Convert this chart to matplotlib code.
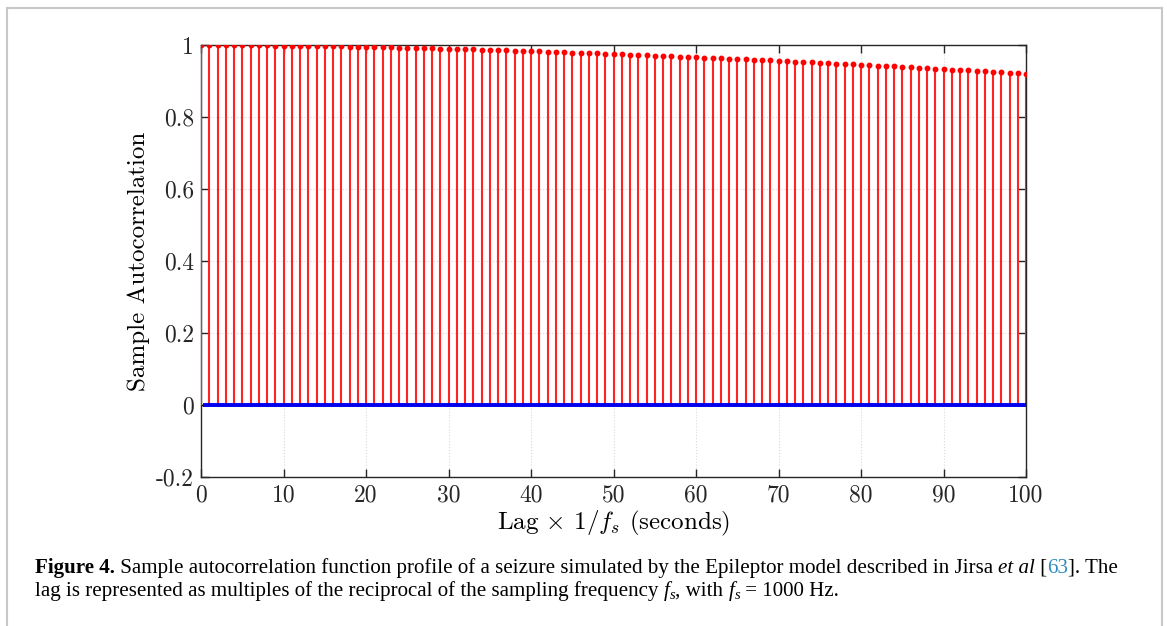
import matplotlib
matplotlib.use("Agg")
import matplotlib.pyplot as plt
from matplotlib.lines import Line2D
import numpy as np

lags = list(range(0, 101))
acf = [
    1.0000, 0.9999, 0.9998, 0.9997, 0.9996, 0.9995,
    0.9993, 0.9990, 0.9988, 0.9986, 0.9983,
    0.9980, 0.9977, 0.9974, 0.9970, 0.9967,
    0.9963, 0.9959, 0.9955, 0.9951, 0.9946,
    0.9941, 0.9937, 0.9932, 0.9927, 0.9922,
    0.9917, 0.9911, 0.9906, 0.9900, 0.9894,
    0.9888, 0.9882, 0.9876, 0.9869, 0.9863,
    0.9856, 0.9849, 0.9842, 0.9835, 0.9828,
    0.9821, 0.9813, 0.9806, 0.9798, 0.9791,
    0.9783, 0.9775, 0.9767, 0.9758, 0.9750,
    0.9741, 0.9733, 0.9724, 0.9716, 0.9707,
    0.9698, 0.9689, 0.9680, 0.9670, 0.9661,
    0.9651, 0.9641, 0.9632, 0.9622, 0.9612,
    0.9602, 0.9591, 0.9581, 0.9570, 0.9560,
    0.9549, 0.9538, 0.9528, 0.9517, 0.9506,
    0.9495, 0.9484, 0.9472, 0.9461, 0.9450,
    0.9438, 0.9426, 0.9415, 0.9403, 0.9391,
    0.9379, 0.9367, 0.9354, 0.9342, 0.9330,
    0.9317, 0.9304, 0.9292, 0.9279, 0.9266,
    0.9253, 0.9240, 0.9226, 0.9213, 0.9200,
]
bound_x = [0.5, 100]
bound_y = [0.0, 0.0]
xticks = [0, 10, 20, 30, 40, 50, 60, 70, 80, 90, 100]
yticks = [-0.2, 0, 0.2, 0.4, 0.6, 0.8, 1]
ytick_labels = ["-0.2", "0", "0.2", "0.4", "0.6", "0.8", "1"]

plt.rcParams['mathtext.fontset'] = 'cm'
plt.rcParams['axes.unicode_minus'] = False

W, H = 1167, 626
fig = plt.figure(figsize=(W / 100, H / 100), dpi=100)
ax = fig.add_axes([201 / W, 1 - 477 / H, (1026 - 201) / W, (477 - 45) / H])

ax.set_xlim(0, 100)
ax.set_ylim(-0.2, 1)
ax.set_xticks(xticks)
ax.set_yticks(yticks)
ax.set_xticklabels([str(t) for t in xticks], fontfamily='cmr10', fontsize=17)
ax.set_yticklabels(ytick_labels, fontfamily='cmr10', fontsize=17)
ax.tick_params(axis='x', pad=5)
ax.tick_params(axis='y', pad=5)
ax.tick_params(direction='in', length=6, width=1, top=True, right=True,
               color='#262626', labelcolor='#262626')
for s in ax.spines.values():
    s.set_color('#262626')
    s.set_linewidth(1.0)
ax.grid(True, linestyle=':', color='#d9d9d9', linewidth=0.8)
ax.set_axisbelow(True)

ax.axhline(0, color='black', linewidth=1.0, zorder=2)
ax.vlines(lags, 0, acf, color='#ff2424', linewidth=1.5, zorder=3)
ax.plot(lags, acf, 'o', color='red', markersize=3.2, zorder=4)
ax.plot(bound_x, bound_y, color='#0000ee', linewidth=2.8, zorder=5)

ax.set_ylabel('Sample Autocorrelation', fontfamily='cmr10', fontsize=18, labelpad=4)
ax.set_xlabel(r'Lag $\times$ $1/f_s$ (seconds)', fontfamily='cmr10', fontsize=18, labelpad=2)

# page frame
fig.add_artist(Line2D([7 / W, 7 / W], [0, 1 - 8 / H], transform=fig.transFigure, color='#c8c8c8', linewidth=1.5))
fig.add_artist(Line2D([7 / W, 1162 / W], [1 - 8 / H, 1 - 8 / H], transform=fig.transFigure, color='#c8c8c8', linewidth=1.5))
fig.add_artist(Line2D([1162 / W, 1162 / W], [0, 1 - 8 / H], transform=fig.transFigure, color='#c8c8c8', linewidth=1.5))

# caption
renderer = fig.canvas.get_renderer()
cap_font = 'Liberation Serif'
cap_size = 15.1

def write_pieces(pieces, x0, ypix):
    x = x0
    for txt, kw in pieces:
        kw = dict(kw)
        dy = kw.pop('dy', 0)
        size = kw.pop('size', cap_size)
        t = fig.text(x / W, 1 - (ypix + dy) / H, txt, fontfamily=cap_font, fontsize=size,
                     va='baseline', ha='left', **kw)
        bb = t.get_window_extent(renderer=renderer)
        x += bb.width

line1 = [
    ('Figure 4.', dict(fontweight='bold')),
    (' Sample autocorrelation function profile of a seizure simulated by the Epileptor model described in Jirsa ', {}),
    ('et al', dict(fontstyle='italic')),
    (' [', {}),
    ('63', dict(color='#2e8bc0')),
    (']. The', {}),
]
line2 = [
    ('lag is represented as multiples of the reciprocal of the sampling frequency ', {}),
    ('f', dict(fontstyle='italic')),
    ('s', dict(fontstyle='italic', size=10.5, dy=3)),
    (', with ', {}),
    ('f', dict(fontstyle='italic')),
    ('s', dict(fontstyle='italic', size=10.5, dy=3)),
    (' = 1000 Hz.', {}),
]
write_pieces(line1, 35, 573)
write_pieces(line2, 35, 596)

fig.savefig('out.png', dpi=100)
